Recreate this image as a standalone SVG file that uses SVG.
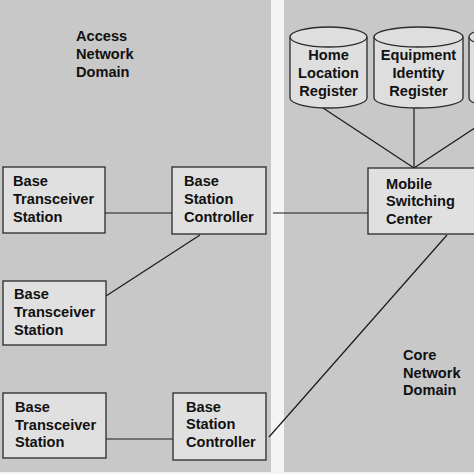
<svg xmlns="http://www.w3.org/2000/svg" width="474" height="474" viewBox="0 0 474 474">
<style>
.panel{fill:#c8c8c8}
.box{fill:#e0e0e0;stroke:#2a2a2a;stroke-width:1.3}
.cyl{fill:#dedede;stroke:#2a2a2a;stroke-width:1.3}
.ln{stroke:#1a1a1a;stroke-width:1.2;fill:none}
text{font-family:"Liberation Sans",Arial,sans-serif;font-weight:bold;font-size:14.6px;fill:#111}
.c{text-anchor:middle}
</style>
<rect x="0" y="0" width="474" height="474" fill="#f4f4f4"/>
<rect class="panel" x="0" y="0" width="271" height="472"/>
<rect class="panel" x="284" y="0" width="190" height="472"/>
<g id="labels">
<text x="76" y="41">Access</text>
<text x="76" y="59">Network</text>
<text x="76" y="77">Domain</text>
<text x="403" y="360">Core</text>
<text x="403" y="378">Network</text>
<text x="403" y="395">Domain</text>
</g>
<g id="connectors">
<line class="ln" x1="105" y1="213" x2="172" y2="213"/>
<line class="ln" x1="200" y1="235" x2="106" y2="296"/>
<line class="ln" x1="273" y1="213" x2="368" y2="213"/>
<line class="ln" x1="106" y1="439" x2="173" y2="439"/>
<line class="ln" x1="269" y1="437" x2="447" y2="235"/>
<line class="ln" x1="323" y1="108" x2="414" y2="168"/>
<line class="ln" x1="414" y1="108" x2="414" y2="168"/>
<line class="ln" x1="505" y1="108" x2="414" y2="168"/>
</g>
<g id="bts1">
<rect class="box" x="3" y="167" width="102" height="66"/>
<text x="13" y="186">Base</text>
<text x="13" y="204">Transceiver</text>
<text x="13" y="221.5">Station</text>
</g>
<g id="bsc1">
<rect class="box" x="172" y="167" width="94" height="67"/>
<text x="184" y="186">Base</text>
<text x="184" y="204">Station</text>
<text x="184" y="221.5">Controller</text>
</g>
<g id="bts2">
<rect class="box" x="3" y="281" width="103" height="64"/>
<text x="14" y="299">Base</text>
<text x="14" y="317">Transceiver</text>
<text x="14" y="334.5">Station</text>
</g>
<g id="bts3">
<rect class="box" x="3" y="393" width="103" height="65"/>
<text x="15" y="412">Base</text>
<text x="15" y="429.5">Transceiver</text>
<text x="15" y="447">Station</text>
</g>
<g id="bsc2">
<rect class="box" x="173" y="393" width="93" height="67"/>
<text x="186" y="411.5">Base</text>
<text x="186" y="429">Station</text>
<text x="186" y="447">Controller</text>
</g>
<g id="msc">
<rect class="box" x="368" y="168" width="112" height="66"/>
<text x="386" y="188.5">Mobile</text>
<text x="386" y="206">Switching</text>
<text x="386" y="223.5">Center</text>
</g>
<g id="hlr">
<path class="cyl" d="M290,37 V98 A38.5,10 0 0 0 367,98 V37 A38.5,10 0 0 0 290,37 Z"/>
<path class="cyl" d="M290,37 A38.5,10 0 0 0 367,37"/>
<text class="c" x="328.5" y="60">Home</text>
<text class="c" x="328.5" y="78">Location</text>
<text class="c" x="328.5" y="96">Register</text>
</g>
<g id="eir">
<path class="cyl" d="M374,37 V98 A44.5,10 0 0 0 463,98 V37 A44.5,10 0 0 0 374,37 Z"/>
<path class="cyl" d="M374,37 A44.5,10 0 0 0 463,37"/>
<text class="c" x="418.5" y="60">Equipment</text>
<text class="c" x="418.5" y="78">Identity</text>
<text class="c" x="418.5" y="96">Register</text>
</g>
<g id="db3">
<path class="cyl" d="M469,37 V98 A40,10 0 0 0 549,98 V37 A40,10 0 0 0 469,37 Z"/>
<path class="cyl" d="M469,37 A40,10 0 0 0 549,37"/>
</g>
</svg>
